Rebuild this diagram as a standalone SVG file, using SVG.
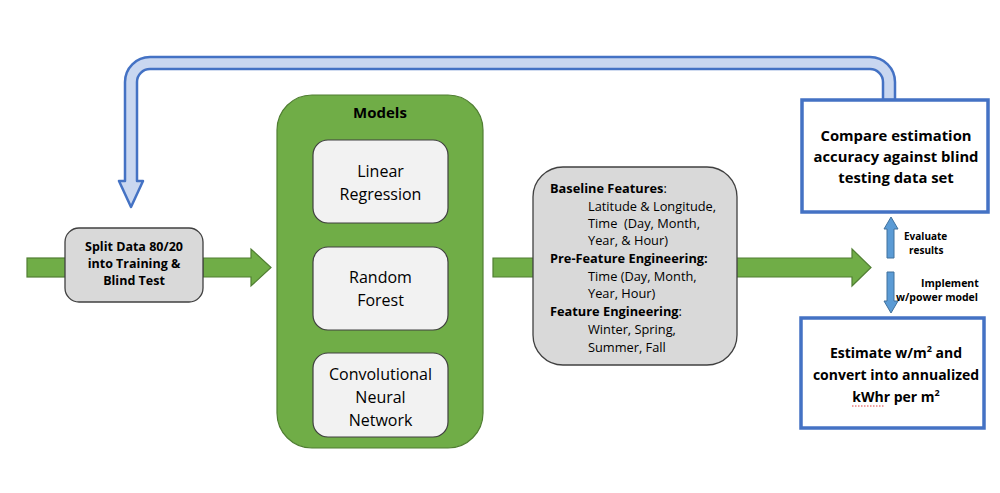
<svg xmlns="http://www.w3.org/2000/svg" width="1000" height="493" viewBox="0 0 1000 493">
<style>
text{font-family:"Open Sans","Noto Sans","Liberation Sans",sans-serif;fill:#000}
.b{font-weight:bold}
.green{fill:#70AD47;stroke:#507E32;stroke-width:1.2}
.gray{fill:#D9D9D9;stroke:#404040;stroke-width:1.3}
.light{fill:#F2F2F2;stroke:#404040;stroke-width:1.2}
.bluebox{fill:#fff;stroke:#4472C4;stroke-width:3.5}
.small{fill:#5B9BD5;stroke:#41719C;stroke-width:1}
</style>
<rect width="1000" height="493" fill="#fff"/>
<g id="connectors">
<path id="feedback" d="M883 100 L883 82 A13 13 0 0 0 870 69 L150 69 A13 13 0 0 0 137 82 L137 181 L143 181 L131 207 L119 181 L125 181 L125 82 A25 25 0 0 1 150 57 L870 57 A25 25 0 0 1 895 82 L895 100 Z" fill="#C9D7F0" stroke="#4472C4" stroke-width="2.5" stroke-linejoin="round"/>
<rect class="green" x="27" y="258" width="40" height="19"/>
<path class="green" d="M203 258 L251 258 L251 249 L271 267.5 L251 286 L251 277 L203 277 Z"/>
<path class="green" d="M493 258 L535 258 L535 277 L493 277 Z"/>
<path class="green" d="M735 258 L852 258 L852 249 L871 267.5 L852 286 L852 277 L735 277 Z"/>
<path class="small" d="M891 217 L898 229 L894 229 L894 258 L887 258 L887 229 L884 229 Z"/>
<path class="small" d="M887 272 L894 272 L894 301 L898 301 L891 313 L884 301 L887 301 Z"/>
<text class="b" x="904" y="240" font-size="10">Evaluate</text>
<text class="b" x="909" y="254" font-size="10">results</text>
<text class="b" x="921" y="287" font-size="10.5">Implement</text>
<text class="b" x="896" y="301" font-size="10.5">w/power model</text>
</g>
<g id="split">
<rect class="gray" x="65" y="228" width="138" height="74" rx="14"/>
<text class="b" font-size="12.5" text-anchor="middle"><tspan x="134" y="251">Split Data 80/20</tspan><tspan x="134" y="268">into Training &amp;</tspan><tspan x="134" y="285">Blind Test</tspan></text>
</g>
<g id="models">
<rect class="green" x="277" y="95" width="206" height="353" rx="35"/>
<text class="b" x="380" y="118" font-size="15" text-anchor="middle">Models</text>
</g>
<g id="linear">
<rect class="light" x="313" y="140" width="135" height="83" rx="15"/>
<text font-size="16" text-anchor="middle"><tspan x="380.5" y="177">Linear</tspan><tspan x="380.5" y="200">Regression</tspan></text>
</g>
<g id="forest">
<rect class="light" x="313" y="247" width="135" height="83" rx="15"/>
<text font-size="16" text-anchor="middle"><tspan x="380.5" y="283">Random</tspan><tspan x="380.5" y="306">Forest</tspan></text>
</g>
<g id="cnn">
<rect class="light" x="313" y="353" width="135" height="84" rx="15"/>
<text font-size="16" text-anchor="middle"><tspan x="380.5" y="380">Convolutional</tspan><tspan x="380.5" y="403">Neural</tspan><tspan x="380.5" y="426">Network</tspan></text>
</g>
<g id="features">
<rect class="gray" x="533" y="167" width="204" height="198" rx="30"/>
<text font-size="12.8">
<tspan x="550" y="193"><tspan class="b">Baseline Features</tspan>:</tspan>
<tspan x="588" y="211">Latitude &amp; Longitude,</tspan>
<tspan x="588" y="228">Time &#160;(Day, Month,</tspan>
<tspan x="588" y="245">Year, &amp; Hour)</tspan>
<tspan x="550" y="263" class="b">Pre-Feature Engineering:</tspan>
<tspan x="588" y="281">Time (Day, Month,</tspan>
<tspan x="588" y="298">Year, Hour)</tspan>
<tspan x="550" y="316"><tspan class="b">Feature Engineering</tspan>:</tspan>
<tspan x="588" y="334">Winter, Spring,</tspan>
<tspan x="588" y="352">Summer, Fall</tspan>
</text>
</g>
<g id="compare">
<rect class="bluebox" x="802" y="100" width="186" height="112"/>
<text class="b" font-size="14.8" text-anchor="middle"><tspan x="896" y="141">Compare estimation</tspan><tspan x="896" y="162">accuracy against blind</tspan><tspan x="896" y="183">testing data set</tspan></text>
</g>
<g id="estimate">
<rect class="bluebox" x="801" y="318" width="183" height="110"/>
<text class="b" font-size="14" text-anchor="middle"><tspan x="896" y="358">Estimate w/m<tspan font-size="9" dy="-6">2</tspan><tspan dy="6"> and</tspan></tspan><tspan x="896" y="380">convert into annualized</tspan><tspan x="896" y="402">kWhr per m<tspan font-size="9" dy="-6">2</tspan></tspan></text>
<path d="M852 406 L884 406" stroke="#E04040" stroke-width="1" stroke-dasharray="1.5 1.5"/>
</g>
</svg>
